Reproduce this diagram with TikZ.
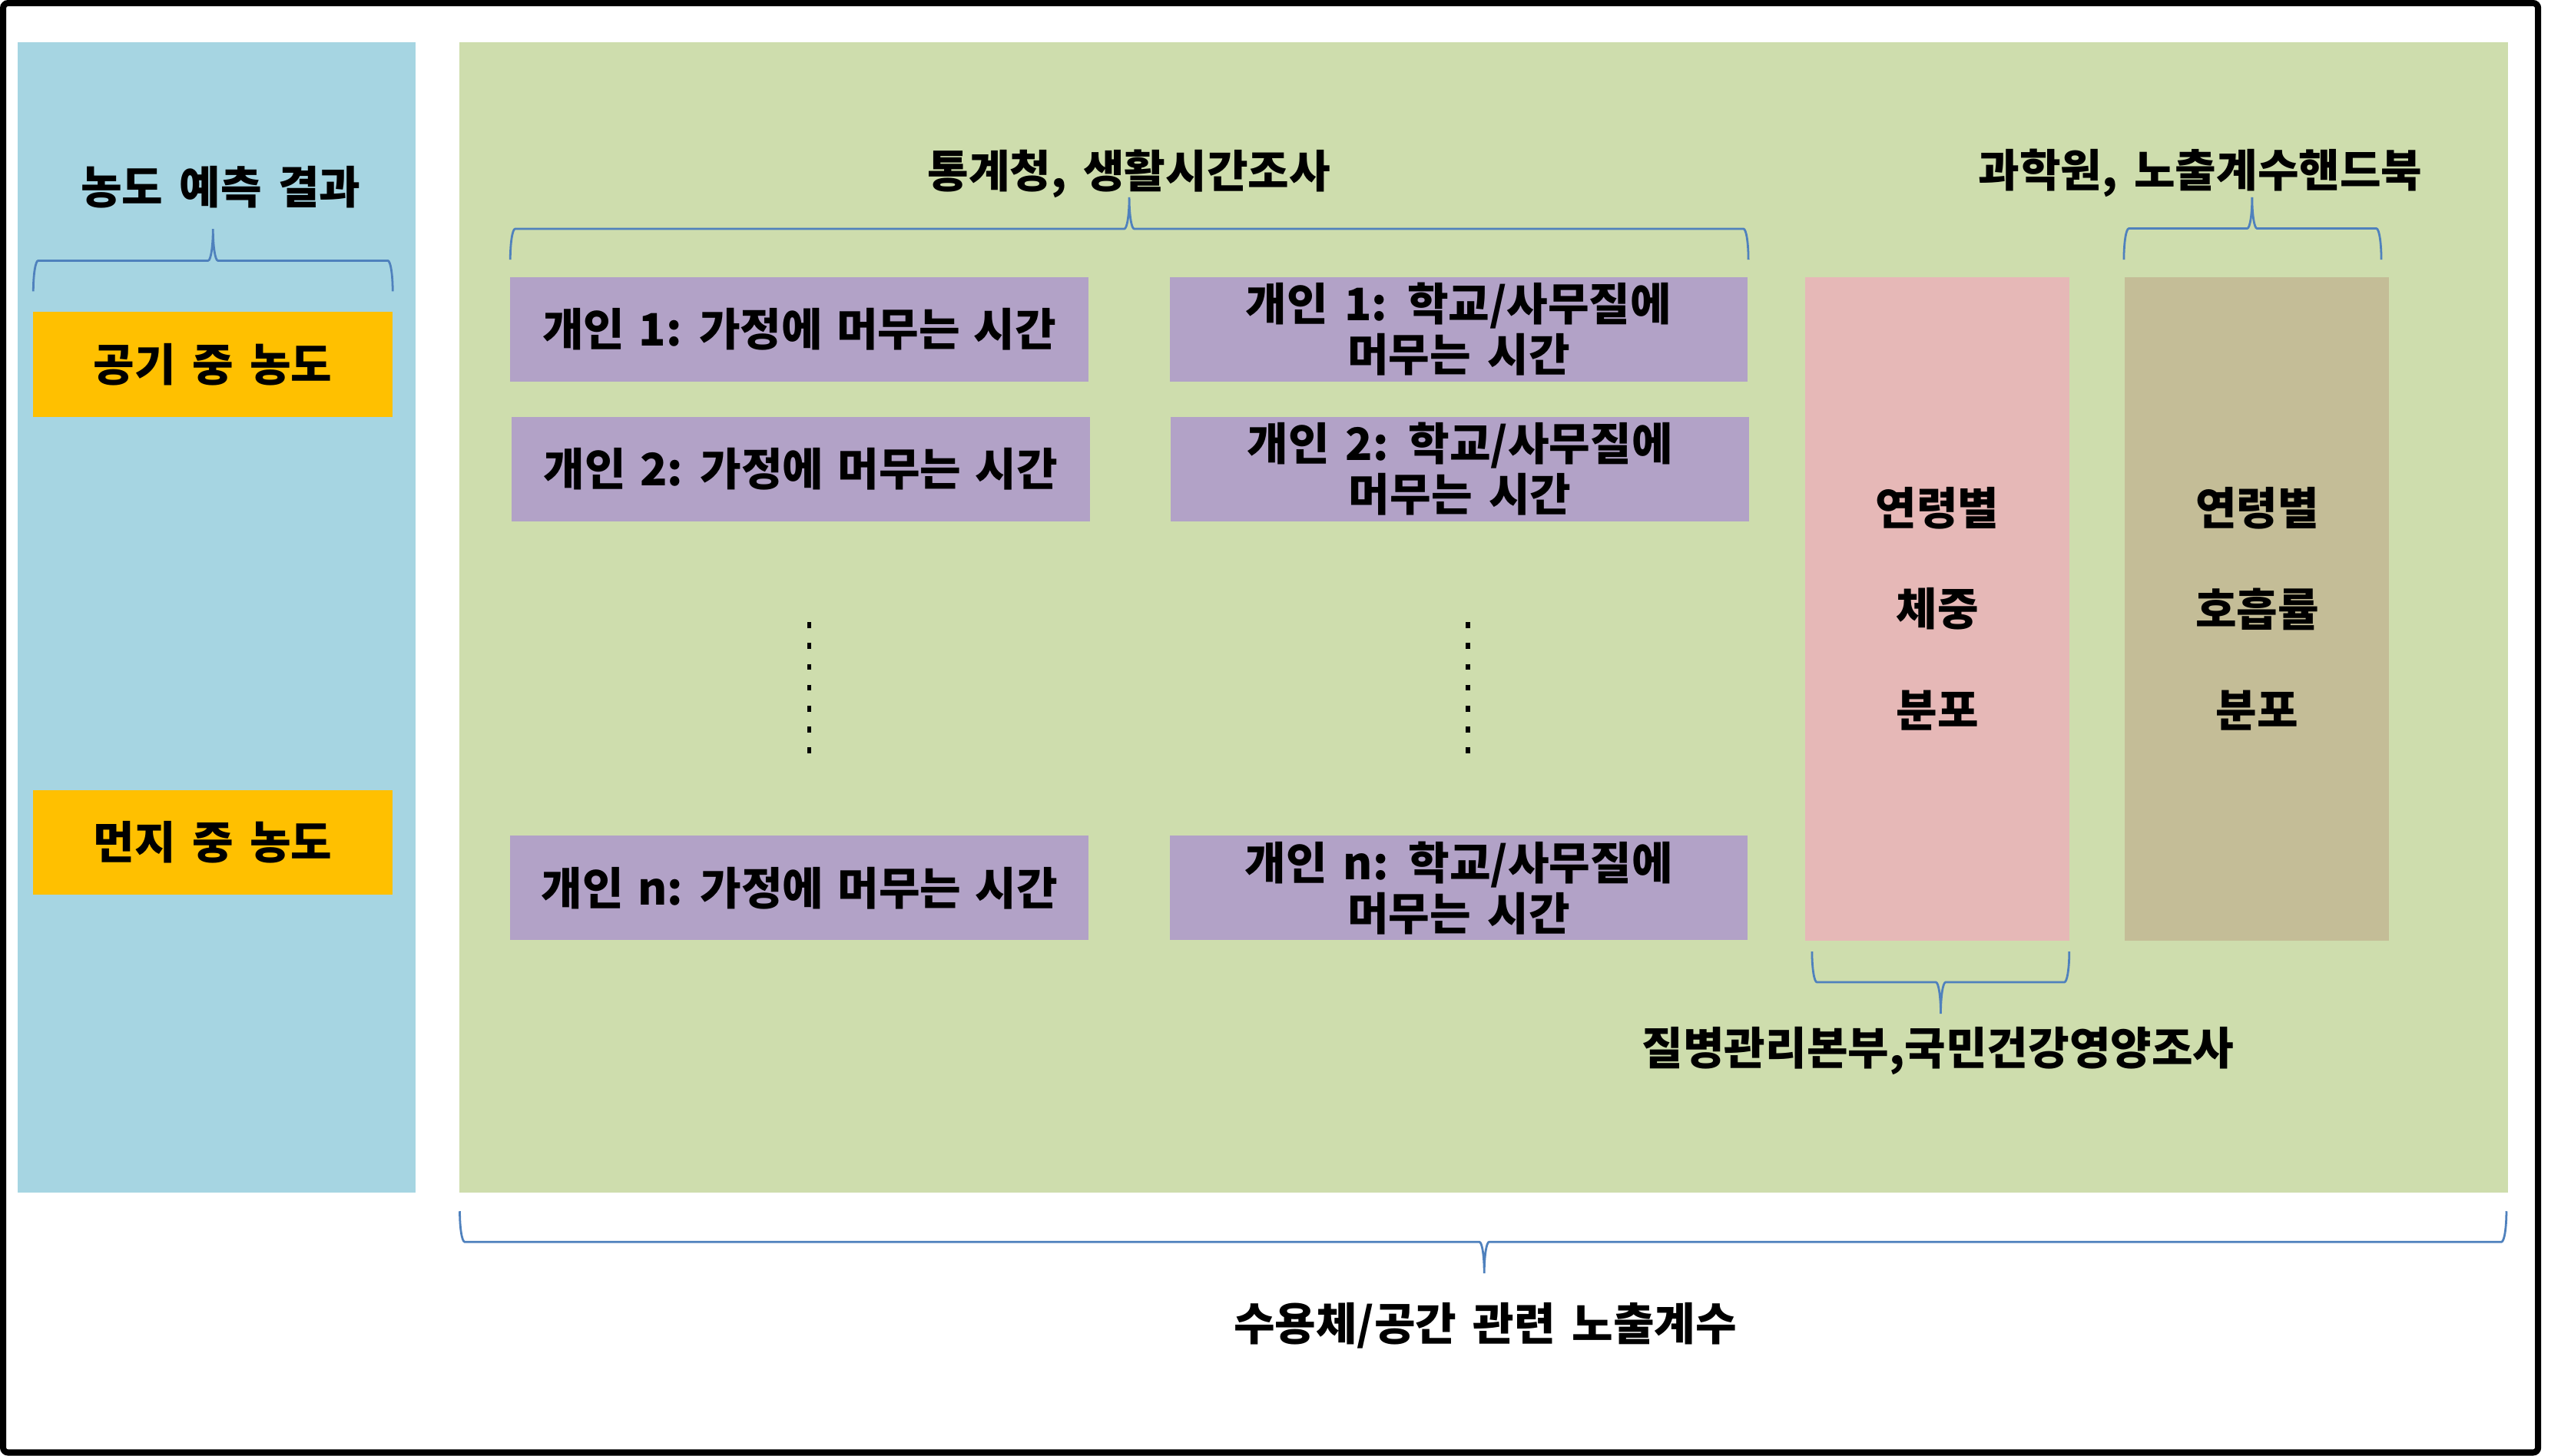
\documentclass[tikz,border=0pt]{standalone}
\usepackage{fontspec}
\newfontfamily\kr{Noto Sans CJK KR}
\definecolor{pblue}{HTML}{A6D5E2}
\definecolor{pgreen}{HTML}{CEDDAD}
\definecolor{porange}{HTML}{FFC000}
\definecolor{ppurple}{HTML}{B2A2C7}
\definecolor{ppink}{HTML}{E6B8B7}
\definecolor{ptan}{HTML}{C4BD97}
\definecolor{bline}{HTML}{4F81BD}
\newcommand\rxb{3}
\newcommand\mybrace[6]{%
  \draw[brc] (#1,#4) .. controls (#1,{#4-0.5523*(#4-#5)}) and ({#1+\rxb*0.4477},#5) .. ({#1+\rxb},#5)
    -- ({#3-\rxb},#5) .. controls ({#3-\rxb*0.4477},#5) and (#3,{#6+0.5523*(#5-#6)}) .. (#3,#6)
    .. controls (#3,{#6+0.5523*(#5-#6)}) and ({#3+\rxb*0.4477},#5) .. ({#3+\rxb},#5)
    -- ({#2-\rxb},#5) .. controls ({#2-\rxb*0.4477},#5) and (#2,{#4-0.5523*(#4-#5)}) .. (#2,#4);}
\begin{document}
\begin{tikzpicture}[x=1pt,y=-1pt,
  every node/.style={font=\kr\bfseries\fontsize{27.3}{30.8}\selectfont, execute at begin node={\spaceskip=10pt\relax}, inner sep=0pt, outer sep=0pt, text=black},
  brc/.style={draw=bline, line width=1.3pt},
  hbox/.style={fill=ppurple, minimum width=352.7pt, minimum height=63.6pt, align=center},
  hboxl/.style={hbox, execute at begin node={\spaceskip=8.5pt\relax}},
  obox/.style={fill=porange, minimum width=219.1pt, minimum height=63.9pt},
  vbox/.style={minimum width=161.1pt, minimum height=404.6pt},
  dots/.style={line width=2.7pt, dash pattern=on 3.6pt off 9.15pt}]
\useasboundingbox (0,0) rectangle (1568,888);
\fill[white] (0,0) rectangle (1568,888);
% panels
\node[fill=pblue, minimum width=242.6pt, minimum height=701.4pt] (bluepanel) at (132.2,376.7) {};
\node[fill=pgreen, minimum width=1249.4pt, minimum height=701.5pt] (greenpanel) at (904.9,376.75) {};
% left column
\node (t1) at (134.6,114) {농도 예측 결과};
\node[obox] (air) at (129.85,222.3) {공기 중 농도};
\node[obox] (dust) at (129.85,514) {먼지 중 농도};
\mybrace{20.3}{239.5}{129.9}{177.7}{159}{139.7}
% middle
\node (t2) at (688.6,105.8) {통계청, 생활시간조사};
\mybrace{311.2}{1066.3}{688.7}{158.4}{139.6}{120.4}
\node[hboxl] (h1) at (487.55,200.9) {개인 1: 가정에 머무는 시간};
\node[hbox] (s1) at (889.65,200.9) {개인 1: 학교/사무질에\\머무는 시간};
\node[hboxl] (h2) at (488.3,286.2) {개인 2: 가정에 머무는 시간};
\node[hbox] (s2) at (890.4,286.2) {개인 2: 학교/사무질에\\머무는 시간};
\node[hboxl] (hn) at (487.55,541.7) {개인 n: 가정에 머무는 시간};
\node[hbox] (sn) at (889.65,541.7) {개인 n: 학교/사무질에\\머무는 시간};
\coordinate (d1a) at (493.5,379.5);
\coordinate (d1b) at (493.5,463);
\coordinate (d2a) at (895.3,379.5);
\coordinate (d2b) at (895.3,463);
\draw[dots] (d1a) -- (d1b);
\draw[dots] (d2a) -- (d2b);
% right
\node[vbox, fill=ppink] (weight) at (1181.45,371.4) {};
\node[vbox, fill=ptan] (resp) at (1376.3,371.4) {};
\node (w1) at (1181.5,310) {연령별};
\node (w2) at (1181.5,371.5) {체중};
\node (w3) at (1181.5,433.3) {분포};
\node (r1) at (1376.6,310) {연령별};
\node (r2) at (1376.6,371.5) {호흡률};
\node (r3) at (1376.6,433.3) {분포};
\node (t3) at (1342,105.8) {과학원, 노출계수핸드북};
\mybrace{1295.3}{1452.3}{1373.5}{158.4}{139.4}{120.4}
\mybrace{1105.1}{1262}{1183.6}{580.5}{599.2}{618.4}
\node (t4) at (1182,641) {질병관리본부,국민건강영양조사};
% bottom
\mybrace{280.4}{1528.6}{905.2}{738.9}{757.6}{776.8}
\node (t5) at (905.8,808.5) {수용체/공간 관련 노출계수};
% outer frame
\draw[line width=3.8pt, rounded corners=3pt] (1.9,1.9) rectangle (1547.9,886.1);
\end{tikzpicture}
\end{document}
